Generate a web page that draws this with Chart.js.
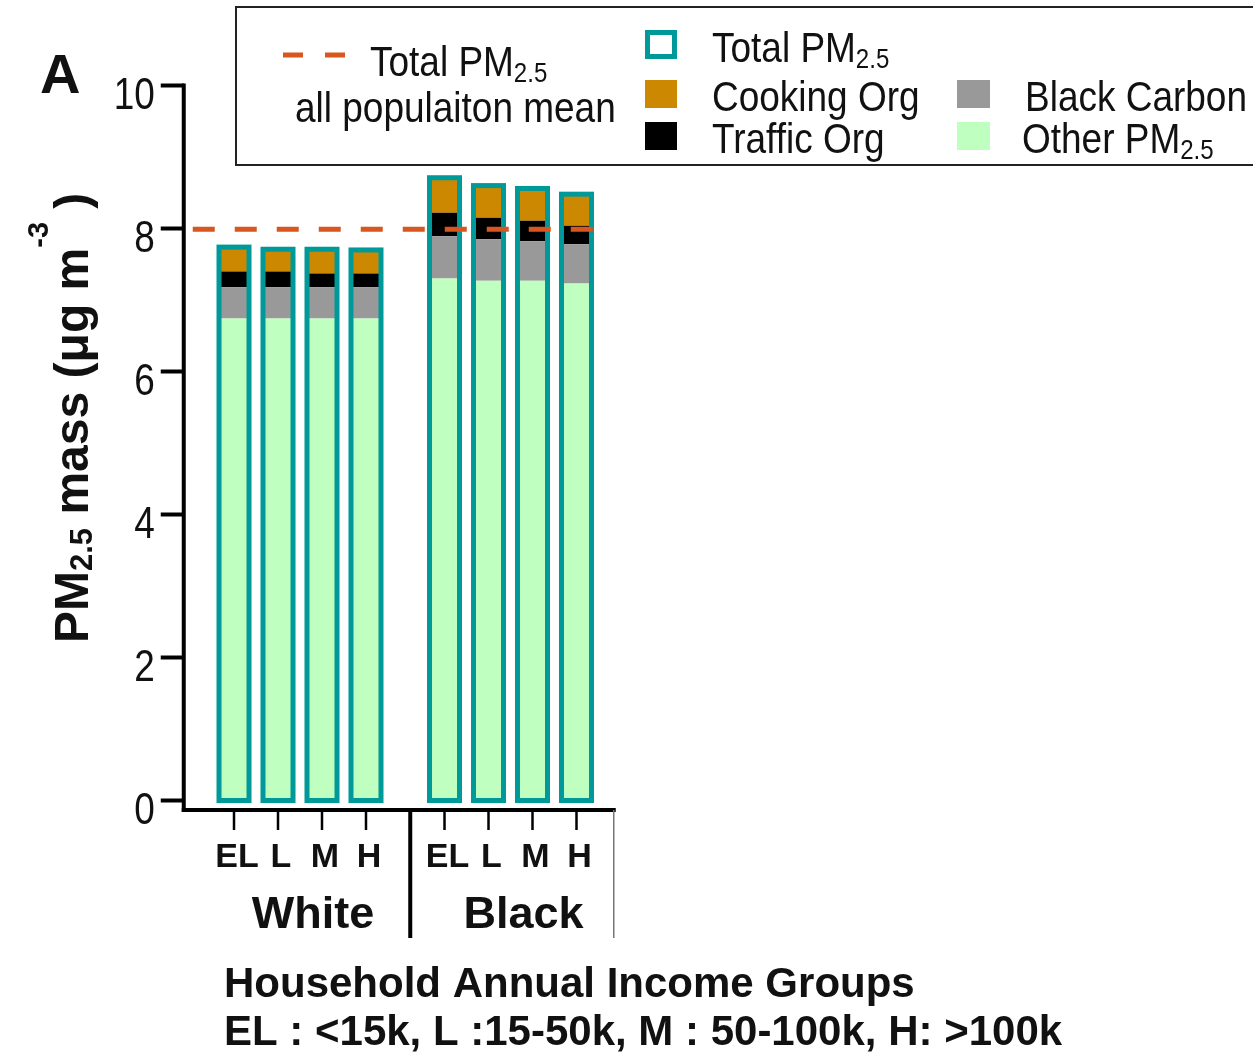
<!DOCTYPE html>
<html>
<head>
<meta charset="utf-8">
<script src="https://cdn.jsdelivr.net/npm/chart.js@4/dist/chart.umd.min.js"></script>
<style>
  html, body { margin: 0; padding: 0; background: #ffffff; }
  canvas { display: block; }
</style>
</head>
<body>
<canvas id="chart" width="1253" height="1053"></canvas>
<script>
// PM2.5 composition (µg m-3) by race and household income group.
// Inner arrays follow incomeGroups; outer arrays follow races.
const races = ['White', 'Black'];
const incomeGroups = ['EL', 'L', 'M', 'H'];
const otherPM = [[6.74, 6.74, 6.74, 6.74], [7.30, 7.27, 7.27, 7.23]];
const blackCarbon = [[0.44, 0.44, 0.44, 0.44], [0.59, 0.58, 0.55, 0.55]];
const trafficOrg = [[0.22, 0.22, 0.19, 0.19], [0.33, 0.30, 0.29, 0.26]];
const cookingOrg = [[0.34, 0.31, 0.34, 0.33], [0.49, 0.45, 0.45, 0.44]];
const totalPM = [[7.74, 7.71, 7.71, 7.70], [8.71, 8.60, 8.56, 8.48]];
const populationMean = 7.99;
const yTicks = [0, 2, 4, 6, 8, 10];

const FONT = '"Liberation Sans", Arial, Helvetica, sans-serif';
const C = {
  other: '#bfffbf',
  bc: '#999999',
  traffic: '#000000',
  cooking: '#cc8800',
  total: '#009999',
  mean: '#d8561f'
};

const components = [
  { name: 'Other PM2.5', values: otherPM, color: C.other },
  { name: 'Black Carbon', values: blackCarbon, color: C.bc },
  { name: 'Traffic Org', values: trafficOrg, color: C.traffic },
  { name: 'Cooking Org', values: cookingOrg, color: C.cooking }
];

const datasets = [];
incomeGroups.forEach((inc, i) => {
  components.forEach(comp => {
    datasets.push({
      label: comp.name + ' ' + inc,
      data: races.map((r, k) => comp.values[k][i]),
      backgroundColor: comp.color,
      borderWidth: 0,
      stack: inc,
      yAxisID: 'y'
    });
  });
});
incomeGroups.forEach((inc, i) => {
  datasets.push({
    label: 'Total PM2.5 ' + inc,
    data: races.map((r, k) => totalPM[k][i]),
    backgroundColor: 'rgba(0,0,0,0)',
    borderWidth: 0,
    stack: inc,
    yAxisID: 'yt',
    isTotal: true
  });
});

// Draw a run of text pieces (text, size, baseline shift) along one baseline.
function drawRuns(ctx, x, y, parts, opt) {
  opt = opt || {};
  ctx.save();
  ctx.translate(x, y);
  if (opt.rot) ctx.rotate(opt.rot);
  ctx.scale(opt.sx || 1, 1);
  ctx.fillStyle = opt.color || '#111';
  ctx.textAlign = 'left';
  ctx.textBaseline = 'alphabetic';
  let cx = 0;
  if (opt.align === 'right' || opt.align === 'center') {
    let w = 0;
    for (const p of parts) { ctx.font = (opt.weight || 'normal') + ' ' + p[1] + 'px ' + FONT; w += ctx.measureText(p[0]).width; }
    cx = opt.align === 'right' ? -w : -w / 2;
  }
  for (const p of parts) {
    ctx.font = (opt.weight || 'normal') + ' ' + p[1] + 'px ' + FONT;
    ctx.fillText(p[0], cx, p[2] || 0);
    cx += ctx.measureText(p[0]).width;
  }
  ctx.restore();
}

const decor = {
  id: 'decor',
  afterDatasetsDraw(chart) {
    const ctx = chart.ctx;
    const ys = chart.scales.y;
    ctx.save();
    // outlines of total PM2.5 bars
    ctx.strokeStyle = C.total;
    ctx.lineWidth = 5;
    let lastRight = 0;
    chart.data.datasets.forEach((ds, di) => {
      if (!ds.isTotal) return;
      chart.getDatasetMeta(di).data.forEach(el => {
        const p = el.getProps(['x', 'y', 'base', 'width'], true);
        ctx.strokeRect(p.x - p.width / 2, p.y, p.width, p.base - p.y);
        lastRight = Math.max(lastRight, p.x + p.width / 2);
      });
    });
    // population mean (dashed)
    const my = ys.getPixelForValue(populationMean);
    ctx.strokeStyle = C.mean;
    ctx.lineWidth = 5;
    ctx.setLineDash([22, 20]);
    ctx.beginPath();
    ctx.moveTo(chart.chartArea.left - 2, my);
    ctx.lineTo(lastRight + 6, my);
    ctx.stroke();
    ctx.restore();
  },
  afterDraw(chart) {
    const ctx = chart.ctx;
    const ys = chart.scales.y;
    const xs = chart.scales.x;
    const area = chart.chartArea;
    const axisX = area.left - 11;
    const axisY = ys.getPixelForValue(0) + 9.5;
    ctx.save();
    ctx.strokeStyle = '#000';
    ctx.fillStyle = '#111';

    // y axis
    ctx.lineWidth = 4;
    ctx.beginPath();
    ctx.moveTo(axisX, ys.getPixelForValue(10) - 2);
    ctx.lineTo(axisX, axisY + 2);
    ctx.stroke();
    yTicks.forEach(v => {
      const py = ys.getPixelForValue(v);
      ctx.beginPath();
      ctx.moveTo(axisX - 23, py);
      ctx.lineTo(axisX, py);
      ctx.stroke();
      drawRuns(ctx, axisX - 29, py + 23, [[String(v), 44]], { sx: 0.84, align: 'right' });
    });

    // x axis
    ctx.beginPath();
    ctx.moveTo(axisX - 2, axisY);
    ctx.lineTo(area.right, axisY);
    ctx.stroke();

    // income tick marks and labels
    const firstMetaOf = {};
    chart.data.datasets.forEach((ds, di) => {
      if (!ds.isTotal && !(ds.stack in firstMetaOf)) firstMetaOf[ds.stack] = chart.getDatasetMeta(di);
    });
    ctx.lineWidth = 2.5;
    races.forEach((r, k) => {
      incomeGroups.forEach(inc => {
        const bx = firstMetaOf[inc].data[k].x;
        ctx.beginPath();
        ctx.moveTo(bx, axisY + 2);
        ctx.lineTo(bx, axisY + 20);
        ctx.stroke();
        drawRuns(ctx, bx + 3, axisY + 57, [[inc, 34]], { weight: 'bold', align: 'center' });
      });
      drawRuns(ctx, xs.getPixelForValue(k) + 13, axisY + 118, [[r, 45]], { weight: 'bold', align: 'center' });
    });

    // group separator and right edge
    const sepX = (xs.getPixelForValue(0) + xs.getPixelForValue(1)) / 2 + 5;
    ctx.lineWidth = 4;
    ctx.beginPath();
    ctx.moveTo(sepX, axisY);
    ctx.lineTo(sepX, axisY + 128);
    ctx.stroke();
    ctx.strokeStyle = '#777';
    ctx.lineWidth = 1.5;
    ctx.beginPath();
    ctx.moveTo(area.right - 2, axisY);
    ctx.lineTo(area.right - 2, axisY + 128);
    ctx.stroke();

    // x axis title
    drawRuns(ctx, 224, 997, [['Household Annual Income Groups', 42]], { weight: 'bold' });
    drawRuns(ctx, 224, 1045, [['EL : <15k, L :15-50k, M : 50-100k, H: >100k', 42]], { weight: 'bold' });

    // y axis title
    drawRuns(ctx, 88, 643, [
      ['PM', 48], ['2.5', 31, 4], [' mass (μg m', 48], ['-3', 29, -40], [' )', 48]
    ], { weight: 'bold', rot: -Math.PI / 2 });

    // panel letter
    drawRuns(ctx, 40, 93, [['A', 56]], { weight: 'bold' });

    // legend box
    ctx.strokeStyle = '#222';
    ctx.lineWidth = 2;
    ctx.strokeRect(236, 7, 1030, 158);

    ctx.strokeStyle = C.mean;
    ctx.lineWidth = 5;
    ctx.setLineDash([]);
    ctx.beginPath();
    ctx.moveTo(283, 55); ctx.lineTo(303, 55);
    ctx.moveTo(325, 55); ctx.lineTo(345, 55);
    ctx.stroke();
    drawRuns(ctx, 370, 76, [['Total PM', 43], ['2.5', 28, 6]], { sx: 0.86 });
    drawRuns(ctx, 295, 122, [['all populaiton mean', 43]], { sx: 0.86 });

    ctx.strokeStyle = C.total;
    ctx.lineWidth = 5;
    ctx.strokeRect(647.5, 32.5, 27, 24);
    drawRuns(ctx, 712, 62, [['Total PM', 43], ['2.5', 28, 6]], { sx: 0.86 });

    ctx.fillStyle = C.cooking; ctx.fillRect(645, 80, 32, 28);
    drawRuns(ctx, 712, 111, [['Cooking Org', 43]], { sx: 0.86 });
    ctx.fillStyle = C.traffic; ctx.fillRect(645, 122, 32, 28);
    drawRuns(ctx, 712, 153, [['Traffic Org', 43]], { sx: 0.86 });
    ctx.fillStyle = C.bc; ctx.fillRect(957, 80, 33, 28);
    drawRuns(ctx, 1025, 111, [['Black Carbon', 43]], { sx: 0.86 });
    ctx.fillStyle = C.other; ctx.fillRect(957, 122, 33, 28);
    drawRuns(ctx, 1022, 153, [['Other PM', 43], ['2.5', 28, 6]], { sx: 0.86 });

    ctx.restore();
  }
};

new Chart(document.getElementById('chart'), {
  type: 'bar',
  data: { labels: races, datasets: datasets },
  options: {
    responsive: false,
    animation: false,
    events: [],
    layout: { padding: { left: 194.75, right: 637.25, top: 85.5, bottom: 252.5 } },
    categoryPercentage: 0.836,
    barPercentage: 0.682,
    plugins: { legend: { display: false }, title: { display: false }, tooltip: { enabled: false } },
    scales: {
      x: { type: 'category', display: false, stacked: true, offset: true },
      y: { type: 'linear', display: false, stacked: true, min: 0, max: 10 },
      yt: { type: 'linear', display: false, stacked: false, min: 0, max: 10 }
    }
  },
  plugins: [decor]
});
</script>
</body>
</html>
